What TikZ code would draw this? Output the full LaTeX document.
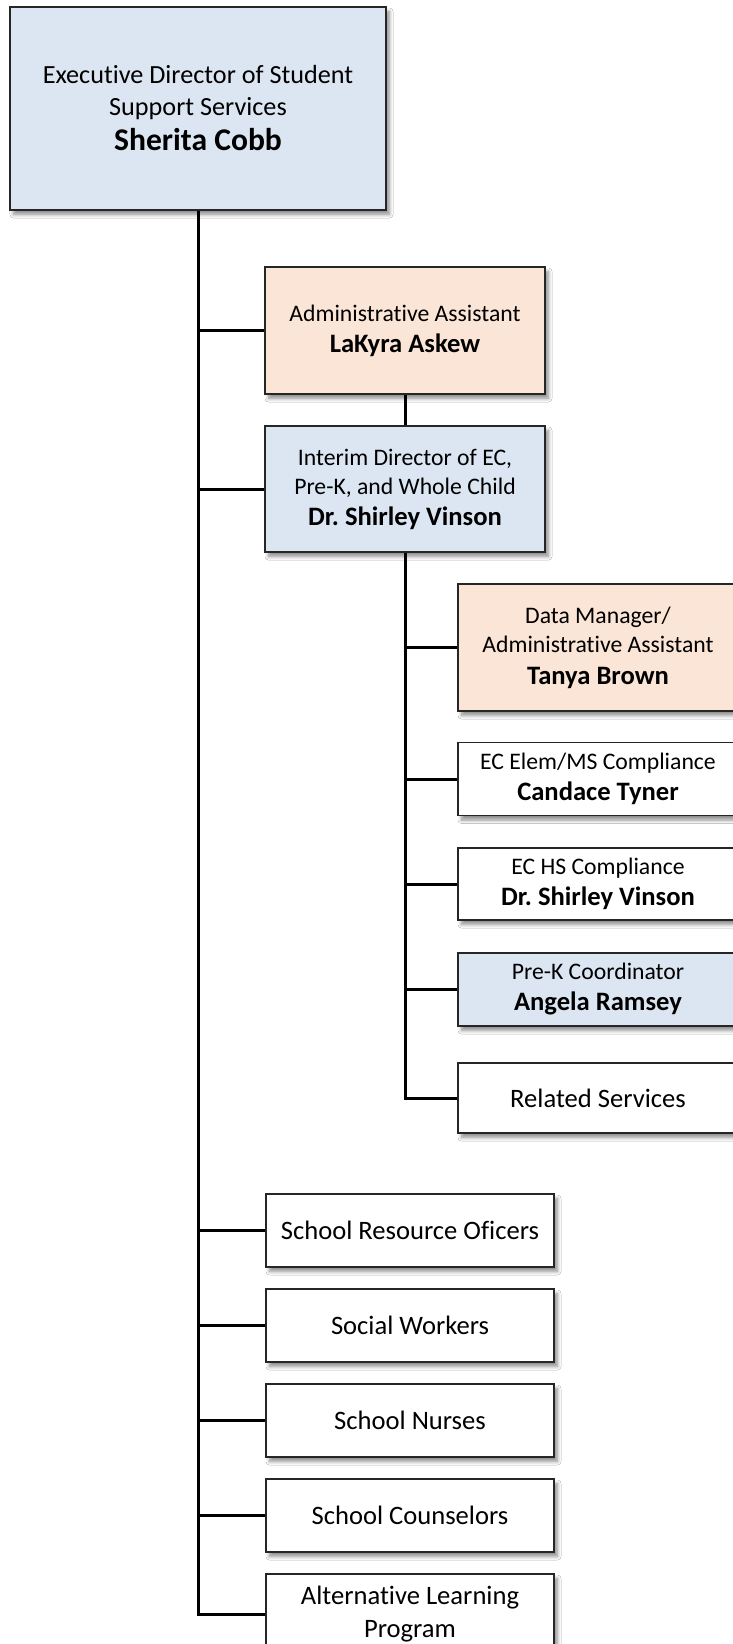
\documentclass[tikz,border=0pt]{standalone}
\usepackage{fontspec}
\setmainfont{Carlito}[Ligatures={NoCommon,NoContextual,NoRare}, Contextuals=NoAlternate]
\usetikzlibrary{shadows.blur}
\frenchspacing

\definecolor{paleblue}{HTML}{DCE6F2}
\definecolor{palepeach}{HTML}{FBE5D6}

% role line / name line typography
\newcommand\rolefont{\fontsize{23.7}{29}\selectfont}
\newcommand\pname[1]{{\fontsize{26.6}{31}\selectfont\bfseries #1}}

\tikzset{
  box/.style={draw=black!85, line width=1.3pt, fill=white, inner sep=0pt,
    align=center, font=\rolefont,
    blur shadow={shadow xshift=3.5pt, shadow yshift=-4.5pt,
      shadow blur steps=8, shadow opacity=45, shadow blur radius=3.5pt}},
  bluebox/.style={box, fill=paleblue},
  peachbox/.style={box, fill=palepeach},
  unitbox/.style={box, font=\fontsize{26.6}{31}\selectfont},
  wire/.style={draw=black, line width=3pt},
}

\begin{document}
\begin{tikzpicture}[x=1pt, y=-1pt]
  \useasboundingbox (0,0) rectangle (733,1644);
  \fill[white] (0,0) rectangle (733,1644);
  \clip (0,0) rectangle (733,1644);

  % head of the department
  \node[bluebox, minimum width=376pt, minimum height=203pt] (exec) at (198,108.5)
    {{\fontsize{26.2}{32}\selectfont Executive Director of Student}\\[3pt]
     {\fontsize{26.2}{32}\selectfont Support Services}\\[6pt]
     {\fontsize{31.6}{38}\selectfont\bfseries Sherita Cobb}};

  % direct reports
  \node[peachbox, minimum width=280pt, minimum height=127pt] (admin) at (405,330.5)
    {Administrative Assistant\\[2pt] \pname{LaKyra Askew}};
  \node[bluebox, minimum width=280pt, minimum height=126pt] (interim) at (405,489)
    {Interim Director of EC,\\ Pre-K, and Whole Child\\[2pt] \pname{Dr. Shirley Vinson}};

  % EC / Pre-K team
  \node[peachbox, minimum width=280pt, minimum height=127pt] (data) at (598,647.5)
    {Data Manager/\\ Administrative Assistant\\[3pt] \pname{Tanya Brown}};
  \node[box, minimum width=280pt, minimum height=73pt] (elem) at (598,779)
    {EC Elem/MS Compliance\\[2pt] \pname{Candace Tyner}};
  \node[box, minimum width=280pt, minimum height=72pt] (hs) at (598,884)
    {EC HS Compliance\\[2pt] \pname{Dr. Shirley Vinson}};
  \node[bluebox, minimum width=280pt, minimum height=73pt] (prek) at (598,989.5)
    {Pre-K Coordinator\\[2pt] \pname{Angela Ramsey}};
  \node[unitbox, minimum width=280pt, minimum height=70pt] (related) at (598,1098)
    {Related Services};

  % support service units
  \node[unitbox, minimum width=288pt, minimum height=73pt] (sro) at (410,1230.5)
    {School Resource Oficers};
  \node[unitbox, minimum width=288pt, minimum height=73pt] (social) at (410,1325.5)
    {Social Workers};
  \node[unitbox, minimum width=288pt, minimum height=73pt] (nurses) at (410,1420.5)
    {School Nurses};
  \node[unitbox, minimum width=288pt, minimum height=73pt] (counsel) at (410,1515.5)
    {School Counselors};
  \node[unitbox, minimum width=288pt, minimum height=80pt] (alp) at (410,1614)
    {Alternative Learning\\[2pt] Program};

  % main trunk and its branches
  \draw[wire] (exec.south) -- (exec.south |- alp.west) -- (alp.west);
  \foreach \n in {admin, interim, sro, social, nurses, counsel}
    \draw[wire] (exec.south |- \n.west) -- (\n.west);
  \draw[wire] (admin.south) -- (interim.north);

  % EC / Pre-K trunk and its branches
  \draw[wire] (interim.south) -- (interim.south |- related.west) -- (related.west);
  \foreach \n in {data, elem, hs, prek}
    \draw[wire] (interim.south |- \n.west) -- (\n.west);
\end{tikzpicture}
\end{document}
